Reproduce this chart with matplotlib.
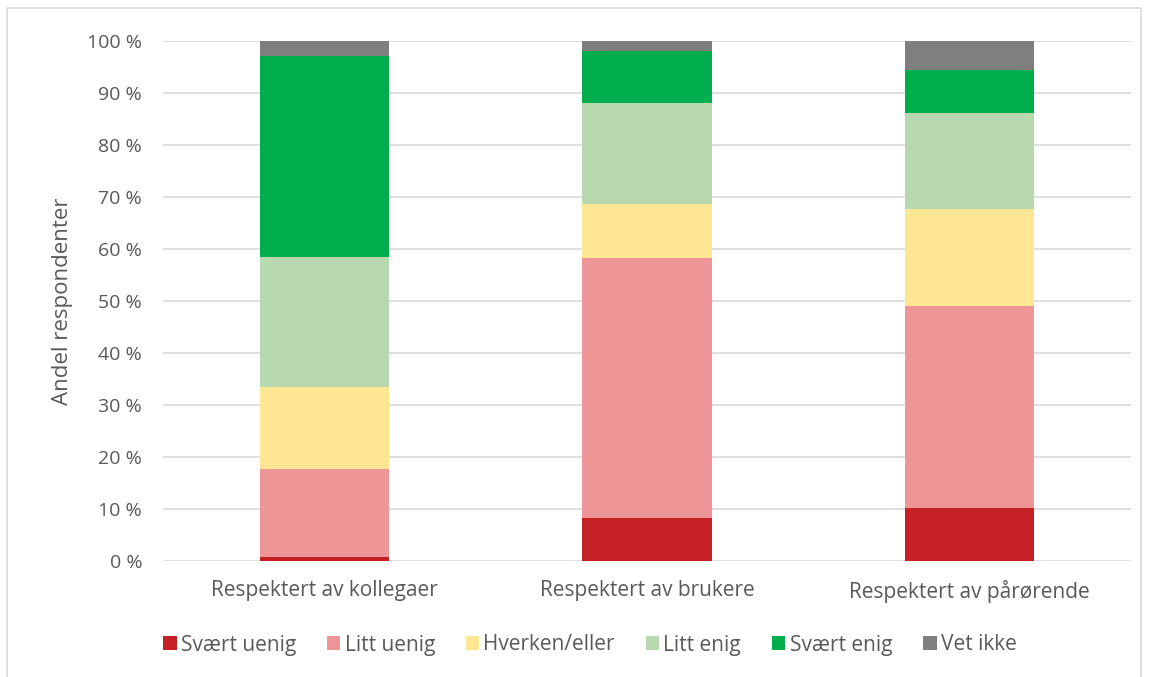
import matplotlib
matplotlib.use("Agg")
import matplotlib.pyplot as plt
from matplotlib.patches import Rectangle
from matplotlib.ticker import FuncFormatter

categories = ["Respektert av kollegaer", "Respektert av brukere", "Respektert av pårørende"]
series_names = ["Svært uenig", "Litt uenig", "Hverken/eller", "Litt enig", "Svært enig", "Vet ikke"]
svaert_uenig = [0.8, 8.3, 10.1]
litt_uenig = [16.8, 50.0, 39.0]
hverken = [15.8, 10.3, 18.5]
litt_enig = [25.0, 19.4, 18.6]
svaert_enig = [38.8, 10.1, 8.3]
vet_ikke = [2.8, 1.9, 5.5]
colors = ["#c42026", "#ed9597", "#ffe693", "#b8d8b0", "#00ae4e", "#7f7f7f"]

plt.rcParams["font.family"] = ["Open Sans", "DejaVu Sans"]

fig = plt.figure(figsize=(11.49, 6.77), dpi=100)
W, H = 1149, 677
ax = fig.add_axes([163 / W, 1 - 561 / H, (1131 - 163) / W, (561 - 41) / H])

# frame around the whole chart
fig.patches.append(Rectangle((7 / W, -0.01), (1141 - 7) / W, 1 - 8 / H + 0.01,
                             transform=fig.transFigure, fill=False,
                             edgecolor="#d9d9d9", linewidth=1.2))

series = [svaert_uenig, litt_uenig, hverken, litt_enig, svaert_enig, vet_ikke]
x = list(range(len(categories)))
bottom = [0.0] * len(categories)
for name, vals, col in zip(series_names, series, colors):
    ax.bar(x, vals, bottom=bottom, width=0.4, color=col, label=name, zorder=3)
    bottom = [b + v for b, v in zip(bottom, vals)]

ax.set_xlim(-0.5, 2.5)
ax.set_ylim(0, 100)
ax.set_yticks(range(0, 101, 10))
ax.yaxis.set_major_formatter(FuncFormatter(lambda v, p: f"{int(v)} %"))
ax.grid(axis="y", color="#d9d9d9", linewidth=1.2, zorder=0)
for s in ax.spines.values():
    s.set_visible(False)
ax.tick_params(axis="both", length=0, colors="#595959")
ax.tick_params(axis="y", pad=15, labelsize=14)
ax.tick_params(axis="x", pad=14, labelsize=15)
ax.set_xticks(x)
ax.set_xticklabels(categories)
ax.set_ylabel("Andel respondenter", fontsize=16, color="#595959", labelpad=10)

leg = fig.legend(loc="center", bbox_to_anchor=(590 / W, 1 - 645 / H), ncol=6,
                 frameon=False, fontsize=15, handlelength=0.63, handleheight=0.63,
                 handletextpad=0.2, columnspacing=1.5)
for t in leg.get_texts():
    t.set_color("#595959")

fig.savefig("out.png", dpi=100)
